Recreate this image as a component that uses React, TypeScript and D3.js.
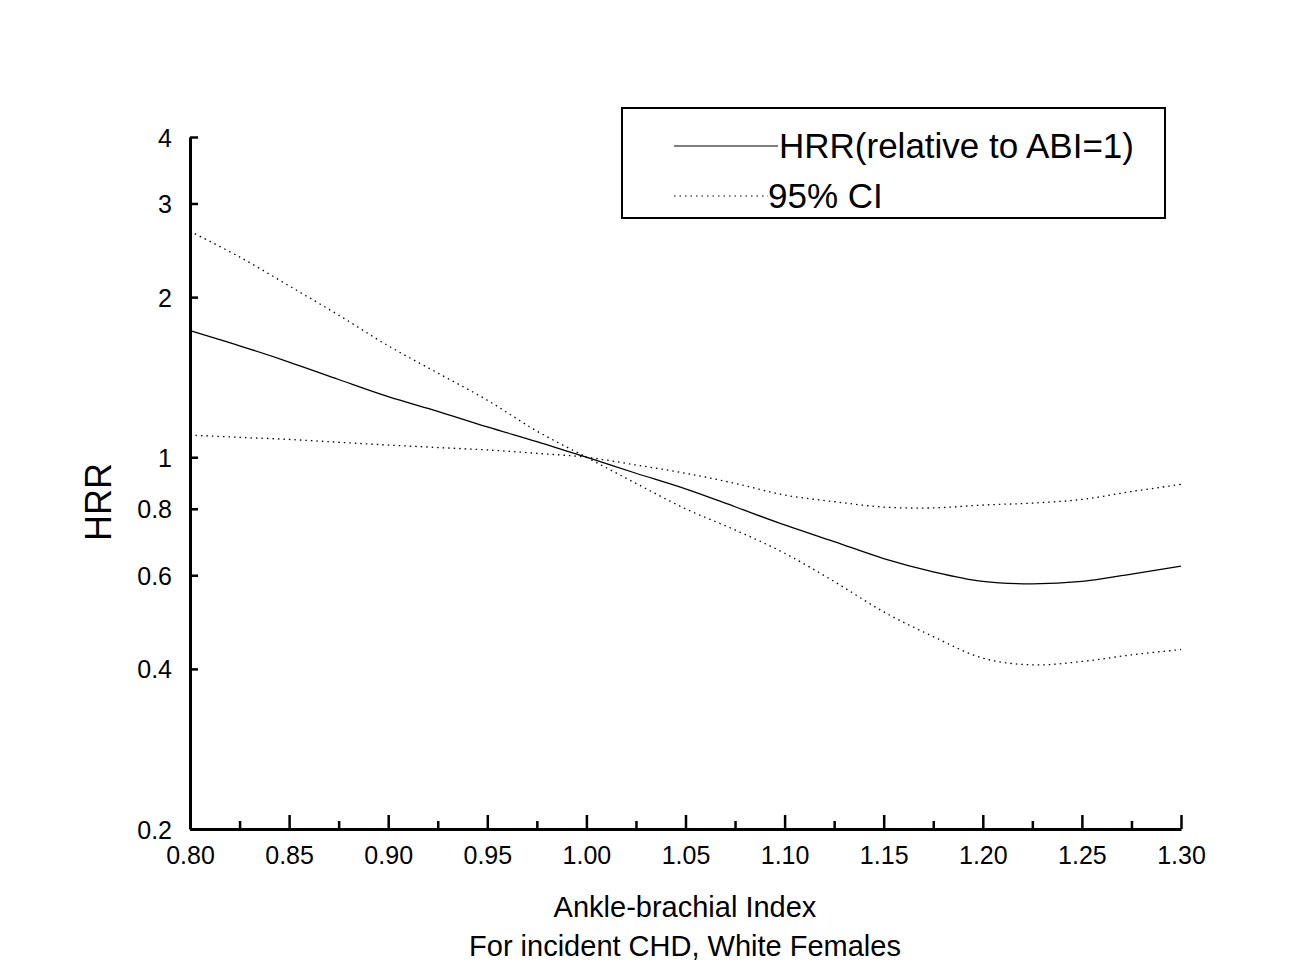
import { useEffect, useRef } from 'react'
import * as d3 from 'd3'

// ABI grid (0.025 steps)
const abi = [
  0.8, 0.825, 0.85, 0.875, 0.9, 0.925, 0.95, 0.975, 1.0, 1.025, 1.05,
  1.075, 1.1, 1.125, 1.15, 1.175, 1.2, 1.225, 1.25, 1.275, 1.3,
]
// hazard rate ratio relative to ABI = 1
const hrr = [
  1.73, 1.62, 1.51, 1.4, 1.3, 1.22, 1.14, 1.07, 1.0, 0.933, 0.872,
  0.807, 0.746, 0.694, 0.645, 0.609, 0.584, 0.578, 0.584, 0.603, 0.624,
]
// 95% CI bounds, kept as the two continuous dotted curves that cross at 1
const ciSteep = [
  2.66, 2.38, 2.1, 1.85, 1.62, 1.44, 1.28, 1.12, 1.0, 0.893, 0.8,
  0.73, 0.66, 0.584, 0.512, 0.46, 0.419, 0.407, 0.413, 0.425, 0.435,
]
const ciFlat = [
  1.1, 1.09, 1.08, 1.067, 1.054, 1.043, 1.032, 1.017, 1.0, 0.967, 0.933,
  0.893, 0.849, 0.825, 0.806, 0.803, 0.813, 0.82, 0.833, 0.862, 0.889,
]

const xTicks = [0.8, 0.85, 0.9, 0.95, 1.0, 1.05, 1.1, 1.15, 1.2, 1.25, 1.3]
const xMinorTicks = [0.825, 0.875, 0.925, 0.975, 1.025, 1.075, 1.125, 1.175, 1.225, 1.275]
const yTicks = [0.2, 0.4, 0.6, 0.8, 1, 2, 3, 4]

const legendItems = [
  { label: 'HRR(relative to ABI=1)', dotted: false },
  { label: '95% CI', dotted: true },
]

const W = 1300
const H = 980
const FONT = '"Liberation Sans", Arial, sans-serif'
const DOTS = '1.5,4'

export default function App() {
  const svgRef = useRef<SVGSVGElement>(null)

  useEffect(() => {
    if (!svgRef.current) return
    const svg = d3.select(svgRef.current)
    svg.selectAll('*').remove()

    const x = d3.scaleLinear().domain([0.8, 1.3]).range([190, 1181])
    const y = d3.scaleLog().domain([0.2, 4]).range([829, 137])

    const line = d3.line<number>()
      .x((_, i) => x(abi[i]))
      .y(d => y(d))
      .curve(d3.curveCatmullRom.alpha(0.5))

    const g = svg.append('g')

    for (const ci of [ciSteep, ciFlat]) {
      g.append('path')
        .attr('d', line(ci) as string)
        .attr('fill', 'none')
        .attr('stroke', '#000')
        .attr('stroke-width', 1.3)
        .attr('stroke-dasharray', DOTS)
    }

    g.append('path')
      .attr('d', line(hrr) as string)
      .attr('fill', 'none')
      .attr('stroke', '#000')
      .attr('stroke-width', 1.3)

    // y axis, ticks pointing inward
    const yAxis = svg.append('g')
      .attr('transform', `translate(${x(0.8)},0)`)
      .call(
        d3.axisLeft(y)
          .tickValues(yTicks)
          .tickFormat(d => String(d))
          .tickSize(-8)
          .tickSizeOuter(0)
          .tickPadding(18)
      )

    // x axis: major and minor ticks pointing up
    const xAxis = svg.append('g')
      .attr('transform', `translate(0,${y(0.2)})`)
      .call(
        d3.axisBottom(x)
          .tickValues(xTicks)
          .tickFormat(d3.format('.2f') as never)
          .tickSize(-14)
          .tickSizeOuter(0)
          .tickPadding(17)
      )

    svg.append('g')
      .attr('transform', `translate(0,${y(0.2)})`)
      .call(
        d3.axisBottom(x)
          .tickValues(xMinorTicks)
          .tickFormat(() => '')
          .tickSize(-8)
          .tickSizeOuter(0)
      )
      .call(a => a.select('.domain').remove())
      .selectAll('line')
      .attr('stroke', '#000')
      .attr('stroke-width', 2.5)

    for (const ax of [yAxis, xAxis]) {
      ax.select('.domain').attr('stroke', '#000').attr('stroke-width', 3)
      ax.selectAll('.tick line').attr('stroke', '#000').attr('stroke-width', 2.5)
      ax.selectAll('.tick text')
        .attr('fill', '#000')
        .attr('font-family', FONT)
        .attr('font-size', 25)
    }
    yAxis.selectAll('.tick text').attr('dy', '0.36em')

    // axis titles
    svg.append('text')
      .attr('transform', 'translate(111,502) rotate(-90)')
      .attr('text-anchor', 'middle')
      .attr('font-family', FONT)
      .attr('font-size', 36)
      .text('HRR')

    svg.append('text')
      .attr('x', 685)
      .attr('y', 917)
      .attr('text-anchor', 'middle')
      .attr('font-family', FONT)
      .attr('font-size', 29)
      .text('Ankle-brachial Index')

    svg.append('text')
      .attr('x', 685)
      .attr('y', 956)
      .attr('text-anchor', 'middle')
      .attr('font-family', FONT)
      .attr('font-size', 29)
      .text('For incident CHD, White Females')

    // legend
    const lg = svg.append('g')
    lg.append('rect')
      .attr('x', 622)
      .attr('y', 108)
      .attr('width', 543)
      .attr('height', 110)
      .attr('fill', '#fff')
      .attr('stroke', '#000')
      .attr('stroke-width', 2)

    legendItems.forEach((item, i) => {
      const ly = 146 + i * 50
      lg.append('line')
        .attr('x1', 674)
        .attr('x2', item.dotted ? 768 : 778)
        .attr('y1', ly)
        .attr('y2', ly)
        .attr('stroke', '#000')
        .attr('stroke-width', 1.2)
        .attr('stroke-dasharray', item.dotted ? DOTS : null)
      lg.append('text')
        .attr('x', item.dotted ? 768 : 779)
        .attr('y', ly + 12)
        .attr('font-family', FONT)
        .attr('font-size', 35)
        .text(item.label)
    })
  }, [])

  return (
    <svg
      ref={svgRef}
      width={W}
      height={H}
      style={{ position: 'absolute', left: 0, top: 0, background: '#fff' }}
    />
  )
}
